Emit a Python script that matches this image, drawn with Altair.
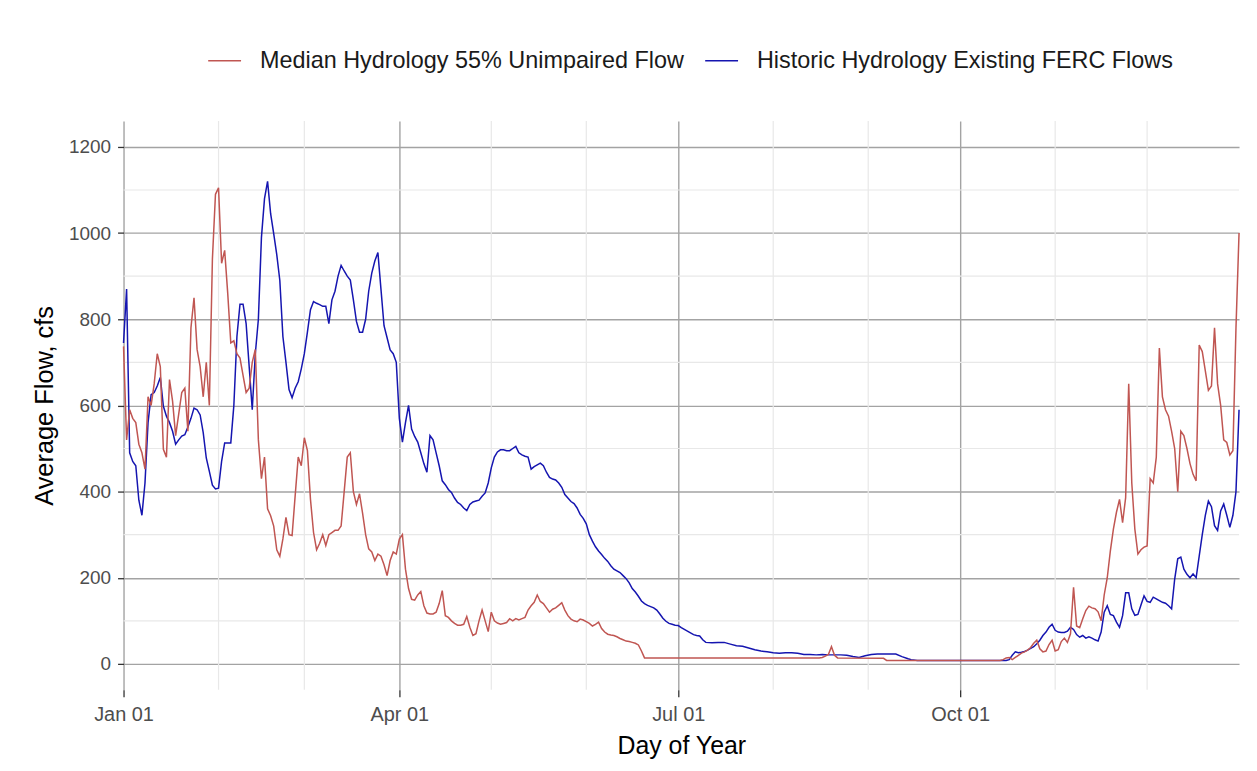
import altair as alt
import pandas as pd

MEDIAN = "Median Hydrology 55% Unimpaired Flow"
HISTORIC = "Historic Hydrology Existing FERC Flows"
RED = "#C05652"
BLUE = "#1515B0"

# ---- Median Hydrology 55% Unimpaired Flow (day of year, cfs) ----
median_days = list(range(1, 171)) + [171, 228, 229, 230, 231, 232, 233, 234, 249, 250, 287] + list(range(288, 366))
median_flow = [
    737, 520, 590, 570, 560, 510, 490, 452, 620, 600,
    650, 720, 690, 498, 480, 660, 610, 530, 580, 630,
    640, 540, 780, 850, 730, 690, 620, 700, 600, 940,
    1090, 1105, 930, 960, 860, 745, 750, 720, 710, 670,
    630, 640, 700, 730, 520, 430, 480, 360, 344, 320,
    265, 250, 290, 340, 300, 298, 390, 480, 460, 525,
    495, 382, 305, 265, 280, 300, 275, 300, 305, 310,
    310, 320, 400, 480, 490, 400, 370, 395, 350, 300,
    267, 260, 240, 255, 250, 230, 205, 240, 260, 255,
    290, 300, 220, 175, 150, 148, 160, 168, 135, 118,
    116, 116, 120, 140, 170, 112, 108, 100, 94, 90,
    90, 92, 110, 85, 66, 70, 100, 125, 100, 75,
    120, 100, 95, 92, 94, 96, 105, 100, 105, 102,
    105, 108, 125, 135, 143, 160, 145, 140, 130, 120,
    127, 130, 136, 142, 125, 112, 104, 100, 98, 104,
    102, 98, 94, 88, 92, 97, 82, 74, 69, 67,
    66, 63, 59, 56, 53, 52, 50, 48, 44, 30,
    14, 14, 15, 18, 22, 40, 20, 14, 13, 8, 8,
    10, 14, 15, 10, 15, 20, 25, 28, 32, 38,
    48, 55, 35, 28, 30, 45, 55, 30, 33, 52,
    60, 50, 70, 178, 88, 84, 105, 124, 134, 130,
    128, 121, 100, 160, 200, 262, 313, 352, 382, 328,
    386, 650, 420, 313, 255, 265, 271, 274, 430, 420,
    480, 733, 620, 590, 575, 540, 500, 400, 540, 530,
    500, 465, 440, 425, 740, 725, 680, 635, 645, 780,
    650, 600, 520, 514, 485, 495, 780, 1000,
]

# ---- Historic Hydrology Existing FERC Flows (day of year, cfs) ----
historic_days = (list(range(1, 190))
                 + [190, 191, 193, 195, 197, 199, 201, 203, 205, 207, 209, 211, 213, 215, 217, 219,
                    221, 223, 225, 227, 229, 231, 233, 235, 237, 239, 241, 243, 245, 247, 249, 251,
                    253, 255, 257, 258, 260, 289]
                 + list(range(290, 366)))
historic_flow = [
    745, 870, 490, 470, 460, 380, 345, 420, 560, 625,
    630, 645, 665, 598, 575, 560, 540, 510, 520, 529,
    532, 550, 570, 594, 590, 578, 537, 478, 447, 415,
    406, 408, 470, 513, 513, 513, 600, 760, 835, 835,
    790, 690, 590, 720, 800, 990, 1080, 1120, 1045, 999,
    950, 890, 760, 700, 637, 618, 640, 655, 685, 720,
    770, 822, 841, 837, 834, 830, 830, 790, 845, 865,
    900, 925, 912, 900, 891, 845, 795, 770, 770, 800,
    865, 907, 935, 955, 870, 785, 757, 729, 720, 700,
    570, 515, 560, 600, 545, 528, 515, 490, 465, 445,
    530, 520, 490, 460, 425, 416, 405, 398, 385, 375,
    370, 362, 356, 370, 376, 378, 380, 389, 397, 420,
    455, 480, 492, 497, 497, 495, 495, 500, 505, 490,
    485, 482, 480, 452, 458, 462, 466, 460, 445, 433,
    429, 427, 420, 410, 393, 385, 377, 372, 362, 347,
    338, 325, 300, 285, 272, 262, 254, 245, 238, 228,
    220, 216, 212, 205, 198, 188, 175, 167, 157, 146,
    140, 136, 133, 130, 125, 116, 106, 99, 94, 92,
    90, 89, 84, 80, 76, 72, 68, 66, 65,
    56, 50, 49, 50, 50, 46, 42, 41, 37, 33, 30, 28, 26, 25, 26, 26,
    25, 22, 22, 21, 22, 21, 21, 21, 20, 17, 15, 19, 22, 23, 23, 23,
    23, 17, 12, 10, 8, 8,
    10, 20, 28, 26, 27, 29, 32, 36, 40, 47,
    55, 66, 74, 85, 92, 78, 74, 73, 73, 76,
    85, 80, 68, 62, 66, 60, 63, 60, 56, 53,
    74, 120, 135, 115, 112, 97, 85, 112, 165, 165,
    128, 113, 115, 137, 158, 145, 143, 155, 151, 147,
    143, 141, 135, 128, 197, 244, 248, 220, 208, 200,
    209, 200, 250, 300, 345, 378, 365, 321, 310, 355,
    371, 345, 317, 345, 400, 590,
]

# ---- axis breaks ----
major_x_days = [1, 91, 182, 274]
major_x_labels = ["Jan 01", "Apr 01", "Jul 01", "Oct 01"]
minor_x_days = [32, 60, 121, 152, 213, 244, 305, 335]
major_y = [0, 200, 400, 600, 800, 1000, 1200]
minor_y = [100, 300, 500, 700, 900, 1100]

df = pd.DataFrame(
    [{"day": d, "flow": f, "series": MEDIAN} for d, f in zip(median_days, median_flow)]
    + [{"day": d, "flow": f, "series": HISTORIC} for d, f in zip(historic_days, historic_flow)]
)

label_expr = " : ".join(
    f"datum.value == {d} ? '{lab}'" for d, lab in zip(major_x_days, major_x_labels)
) + " : ''"

FONT = "Liberation Sans"
x_scale = alt.Scale(domain=[1, 365], nice=False, zero=False)
y_scale = alt.Scale(domain=[-60, 1260], nice=False, zero=False)

x_axis = alt.Axis(
    values=major_x_days, labelExpr=label_expr, title="Day of Year",
    grid=True, gridColor="#A3A3A3", gridWidth=1.4,
    domain=False, ticks=True, tickSize=7, tickColor="#333333", tickWidth=1.3,
    labelPadding=8, titlePadding=9, labelFontSize=20, labelFlush=False,
    titleFontSize=25,
)
y_axis = alt.Axis(
    values=major_y, format="d", title="Average Flow, cfs",
    grid=True, gridColor="#A3A3A3", gridWidth=1.4,
    domain=False, ticks=True, tickSize=6, tickColor="#333333", tickWidth=1.3,
    labelPadding=7, titlePadding=11, labelFontSize=19,
    titleFontSize=25.5,
)

minor_v = alt.Chart(pd.DataFrame({"day": minor_x_days})).mark_rule(
    color="#E8E8E8", strokeWidth=1.2
).encode(x=alt.X("day:Q", scale=x_scale, axis=x_axis))

minor_h = alt.Chart(pd.DataFrame({"flow": minor_y})).mark_rule(
    color="#E8E8E8", strokeWidth=1.2
).encode(y=alt.Y("flow:Q", scale=y_scale, axis=y_axis))

color = alt.Color(
    "series:N",
    scale=alt.Scale(domain=[MEDIAN, HISTORIC], range=[RED, BLUE]),
    legend=alt.Legend(
        title=None, orient="none", legendX=84, legendY=-78, direction="horizontal",
        symbolType="stroke", symbolSize=1089, symbolStrokeWidth=1.5,
        labelFont=FONT, labelFontSize=23.5, labelColor="#1A1A1A", labelLimit=800,
        labelOffset=18, columnPadding=18,
    ),
)

base = alt.Chart(df).encode(
    x=alt.X("day:Q", scale=x_scale, axis=x_axis),
    y=alt.Y("flow:Q", scale=y_scale, axis=y_axis),
    color=color,
)

hist_line = base.transform_filter(alt.datum.series == HISTORIC).mark_line(strokeWidth=1.5)
med_line = base.transform_filter(alt.datum.series == MEDIAN).mark_line(strokeWidth=1.5)

chart = alt.layer(minor_v, minor_h, hist_line, med_line).properties(
    width=1120, height=571,
    padding={"left": 116, "top": 112, "right": 10, "bottom": 72},
    autosize=alt.AutoSizeParams(type="none"),
).configure_view(stroke=None).configure_axis(
    labelFont=FONT, labelColor="#4D4D4D",
    titleFont=FONT, titleColor="#000000", titleFontWeight="normal",
)

chart.save("out.html", embed_options={"renderer": "svg", "actions": False})
